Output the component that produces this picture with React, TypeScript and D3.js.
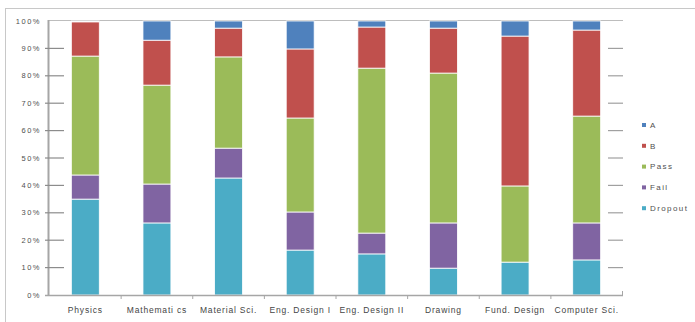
import React from "react";
import * as d3 from "d3";

const categories = ["Physics", "Mathemati cs", "Material Sci.", "Eng. Design I", "Eng. Design II", "Drawing", "Fund. Design", "Computer Sci."];
const seriesNames = ["Dropout", "Fail", "Pass", "B", "A"];
const dropout = [35, 26.3, 42.7, 16.4, 15, 9.8, 12, 12.8];
const fail = [8.8, 14.2, 10.9, 13.9, 7.6, 16.5, 0, 13.5];
const pass = [43.4, 36.1, 33.3, 34.3, 60.2, 54.7, 27.8, 39];
const bGrade = [12.5, 16.4, 10.5, 25.2, 15, 16.4, 54.7, 31.4];
const aGrade = [0.3, 7, 2.6, 10.2, 2.2, 2.6, 5.5, 3.3];
const seriesColors = ["#4bacc6", "#8064a2", "#9bbb59", "#c0504d", "#4f81bd"];
const yTicks = [0, 10, 20, 30, 40, 50, 60, 70, 80, 90, 100];
const legendOrder = ["A", "B", "Pass", "Fail", "Dropout"];

export default function App() {
  const W = 695, H = 322;
  const x = d3.scaleBand<string>().domain(categories).range([49.5, 622.5]).paddingInner(0.61).paddingOuter(0.305);
  const y = d3.scaleLinear().domain([0, 100]).range([295, 21]);
  const rows = categories.map((c, i) => ({ cat: c, Dropout: dropout[i], Fail: fail[i], Pass: pass[i], B: bGrade[i], A: aGrade[i] }));
  const stacked = d3.stack<any>().keys(seriesNames)(rows);
  const color = d3.scaleOrdinal<string, string>().domain(seriesNames).range(seriesColors);
  const font = "'Liberation Sans', Arial, sans-serif";
  const step = x.step();
  return (
    <svg width={W} height={H} style={{ position: "absolute", left: 0, top: 0 }}>
      <rect x={0} y={0} width={W} height={H} fill="#fff" />
      <rect x={5.5} y={8.5} width={W} height={H} fill="none" stroke="#c8c8c8" strokeWidth={1} />
      <line x1={48} x2={623} y1={20.5} y2={20.5} stroke="#bdbdbd" strokeWidth={1.2} />
      {stacked.map((s) => (
        <g key={s.key}>
          {s.map((d, i) => (d[1] - d[0] > 0 ? (
            <rect key={i} x={x(categories[i])} width={x.bandwidth()} y={y(d[1])} height={y(d[0]) - y(d[1])}
              fill={color(s.key)} stroke="#fff" strokeWidth={0.8} />
          ) : null))}
        </g>
      ))}
      <line x1={48.5} x2={48.5} y1={20} y2={296} stroke="#a6a6a6" strokeWidth={2} />
      {yTicks.map((t) => (
        <g key={t}>
          {t > 0 && t < 100 ? <line x1={45} x2={64} y1={y(t)} y2={y(t)} stroke="#8c8c8c" strokeWidth={1.2} /> : null}
          {t > 0 && t < 100 ? <line x1={608} x2={623} y1={y(t)} y2={y(t)} stroke="#a0a0a0" strokeWidth={1.2} /> : null}
          <text x={41} y={y(t)} dy="0.35em" textAnchor="end" fontSize={7.5} letterSpacing={1.5} fontFamily={font} fill="#505050">{t}%</text>
        </g>
      ))}
      <line x1={45} x2={623} y1={295.5} y2={295.5} stroke="#a6a6a6" strokeWidth={1.5} />
      {categories.map((c, i) => (
        <g key={c}>
          <line x1={(x(c) as number) - step * 0.305 + step} x2={(x(c) as number) - step * 0.305 + step} y1={295} y2={i === categories.length - 1 ? 291 : 299} stroke="#a6a6a6" strokeWidth={1} />
          <text x={(x(c) as number) + x.bandwidth() / 2} y={310} dy="0.35em" textAnchor="middle" fontSize={8.5} letterSpacing={0.8} fontFamily={font} fill="#454545">{c}</text>
        </g>
      ))}
      {legendOrder.map((k, i) => (
        <g key={k} transform={`translate(642, ${125 + i * 20.8})`}>
          <rect x={0} y={-2} width={4} height={4} fill={color(k)} />
          <text x={8} y={0} dy="0.35em" fontSize={8} letterSpacing={1.4} fontFamily={font} fill="#505050">{k}</text>
        </g>
      ))}
    </svg>
  );
}
